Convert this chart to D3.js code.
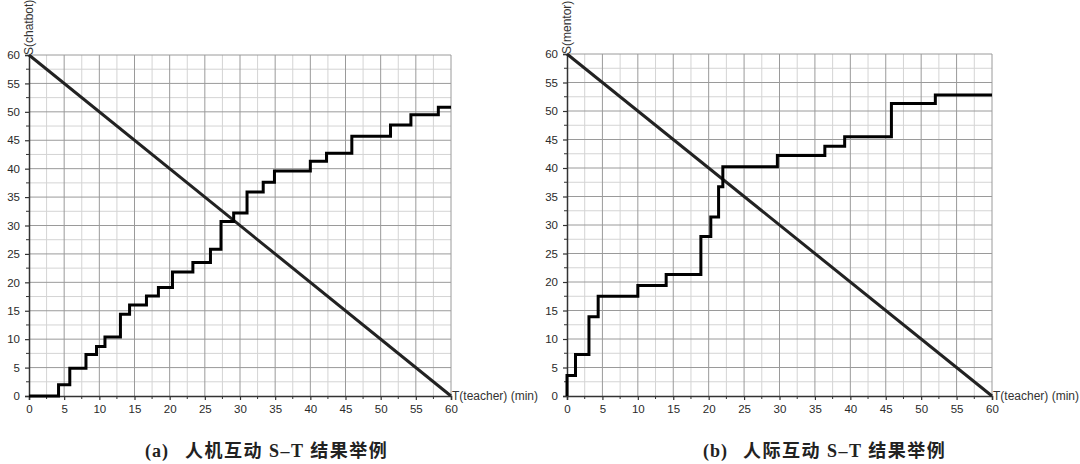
<!DOCTYPE html>
<html>
<head>
<meta charset="utf-8">
<script src="https://cdn.jsdelivr.net/npm/d3@7"></script>
<style>
  body { margin: 0; background: #fff; }
  svg { display: block; }
</style>
</head>
<body>
<svg id="chart" width="1080" height="464"></svg>
<script>
// tick values shared by both panels
const tickValues = [0, 5, 10, 15, 20, 25, 30, 35, 40, 45, 50, 55, 60];
const minorValues = d3.range(0, 60.01, 2.5);

// panel (a): chatbot — time of each step and S level after it
const chatbotT = [0, 4.2, 5.8, 8.1, 9.6, 10.8, 13.0, 14.3, 16.7, 18.4, 20.4, 23.3, 25.8, 27.3, 29.1, 31.0, 33.3, 34.9, 40.0, 42.3, 45.9, 51.4, 54.3, 58.2, 60];
const chatbotS = [0, 2.0, 4.9, 7.3, 8.7, 10.4, 14.4, 16.0, 17.6, 19.1, 21.8, 23.5, 25.8, 30.7, 32.2, 35.9, 37.6, 39.6, 41.3, 42.7, 45.7, 47.7, 49.5, 50.8, 50.8];

// panel (b): mentor
const mentorT = [0, 0, 1.2, 3.1, 4.4, 10.0, 14.0, 18.9, 20.3, 21.4, 22.0, 29.7, 36.4, 39.2, 45.8, 52.0, 60];
const mentorS = [0, 3.6, 7.3, 13.9, 17.5, 19.4, 21.3, 28.0, 31.4, 36.7, 40.2, 42.2, 43.8, 45.5, 51.3, 52.8, 52.8];

// reference line S + T = 60
const diagT = [0, 60];
const diagS = [60, 0];

const panels = [
  { x0: 29, x1: 451, y0: 396, y1: 55, t: chatbotT, s: chatbotS, ylab: "S(chatbot)", tag: "(a)", caption: "人机互动 S–T 结果举例", cx: 145 },
  { x0: 567, x1: 992, y0: 396, y1: 54, t: mentorT, s: mentorS, ylab: "S(mentor)", tag: "(b)", caption: "人际互动 S–T 结果举例", cx: 703 }
];

const svg = d3.select("#chart");

panels.forEach(p => {
  const x = d3.scaleLinear().domain([0, 60]).range([p.x0, p.x1]);
  const y = d3.scaleLinear().domain([0, 60]).range([p.y0, p.y1]);
  const g = svg.append("g");
  const minors = minorValues.filter(v => v % 5 !== 0);

  // minor grid
  g.selectAll(".vmin").data(minors).enter().append("line")
    .attr("x1", d => x(d)).attr("x2", d => x(d)).attr("y1", y(0)).attr("y2", y(60))
    .attr("stroke", "#d4d4d4").attr("stroke-width", 1);
  g.selectAll(".hmin").data(minors).enter().append("line")
    .attr("y1", d => y(d)).attr("y2", d => y(d)).attr("x1", x(0)).attr("x2", x(60))
    .attr("stroke", "#d4d4d4").attr("stroke-width", 1);
  // major grid
  g.selectAll(".vmaj").data(tickValues.slice(1)).enter().append("line")
    .attr("x1", d => x(d)).attr("x2", d => x(d)).attr("y1", y(0)).attr("y2", y(60))
    .attr("stroke", "#9a9a9a").attr("stroke-width", 1);
  g.selectAll(".hmaj").data(tickValues.slice(1)).enter().append("line")
    .attr("y1", d => y(d)).attr("y2", d => y(d)).attr("x1", x(0)).attr("x2", x(60))
    .attr("stroke", "#9a9a9a").attr("stroke-width", 1);

  // axes
  const xAxis = g.append("g").attr("transform", `translate(0,${p.y0})`)
    .call(d3.axisBottom(x).tickValues(tickValues).tickSize(4).tickPadding(5));
  const yAxis = g.append("g").attr("transform", `translate(${p.x0},0)`)
    .call(d3.axisLeft(y).tickValues(tickValues).tickSize(4).tickPadding(5));
  [xAxis, yAxis].forEach(a => {
    a.select(".domain").attr("stroke", "#333").attr("stroke-width", 1.5);
    a.selectAll(".tick line").attr("stroke", "#333").attr("stroke-width", 1.2);
    a.selectAll("text").attr("font-family", "Liberation Sans, Arial, sans-serif")
      .attr("font-size", 11.5).attr("fill", "#2a2a2a");
  });
  // minor ticks
  g.selectAll(".xmt").data(minors).enter().append("line")
    .attr("x1", d => x(d)).attr("x2", d => x(d)).attr("y1", p.y0).attr("y2", p.y0 + 3)
    .attr("stroke", "#333").attr("stroke-width", 1);
  g.selectAll(".ymt").data(minors).enter().append("line")
    .attr("y1", d => y(d)).attr("y2", d => y(d)).attr("x1", p.x0).attr("x2", p.x0 - 3)
    .attr("stroke", "#333").attr("stroke-width", 1);

  // diagonal
  const line = d3.line().x(d => x(d[0])).y(d => y(d[1]));
  g.append("path").datum(d3.zip(diagT, diagS)).attr("d", line)
    .attr("fill", "none").attr("stroke", "#222").attr("stroke-width", 3);

  // step curve
  const step = d3.line().x(d => x(d[0])).y(d => y(d[1])).curve(d3.curveStepAfter);
  g.append("path").datum(d3.zip(p.t, p.s)).attr("d", step)
    .attr("fill", "none").attr("stroke", "#000").attr("stroke-width", 3)
    .attr("stroke-linejoin", "miter");

  // axis titles
  g.append("text").attr("transform", `translate(${p.x0 + 4},${p.y1}) rotate(-90)`)
    .attr("font-family", "Liberation Sans, Arial, sans-serif").attr("font-size", 12)
    .attr("fill", "#333").text(p.ylab);
  g.append("text").attr("x", p.x1 + 1).attr("y", p.y0 + 4)
    .attr("font-family", "Liberation Sans, Arial, sans-serif").attr("font-size", 12)
    .attr("fill", "#333").text("T(teacher) (min)");

  // caption
  const cap = svg.append("text").attr("y", 457)
    .attr("font-family", "Liberation Serif, 'Noto Sans CJK SC', serif")
    .attr("font-weight", "bold").attr("font-size", 18).attr("fill", "#222");
  cap.append("tspan").attr("x", p.cx).attr("letter-spacing", 1).text(p.tag);
  cap.append("tspan").attr("x", p.cx + 40).attr("letter-spacing", 1.5).text(p.caption);
});
</script>
</body>
</html>
